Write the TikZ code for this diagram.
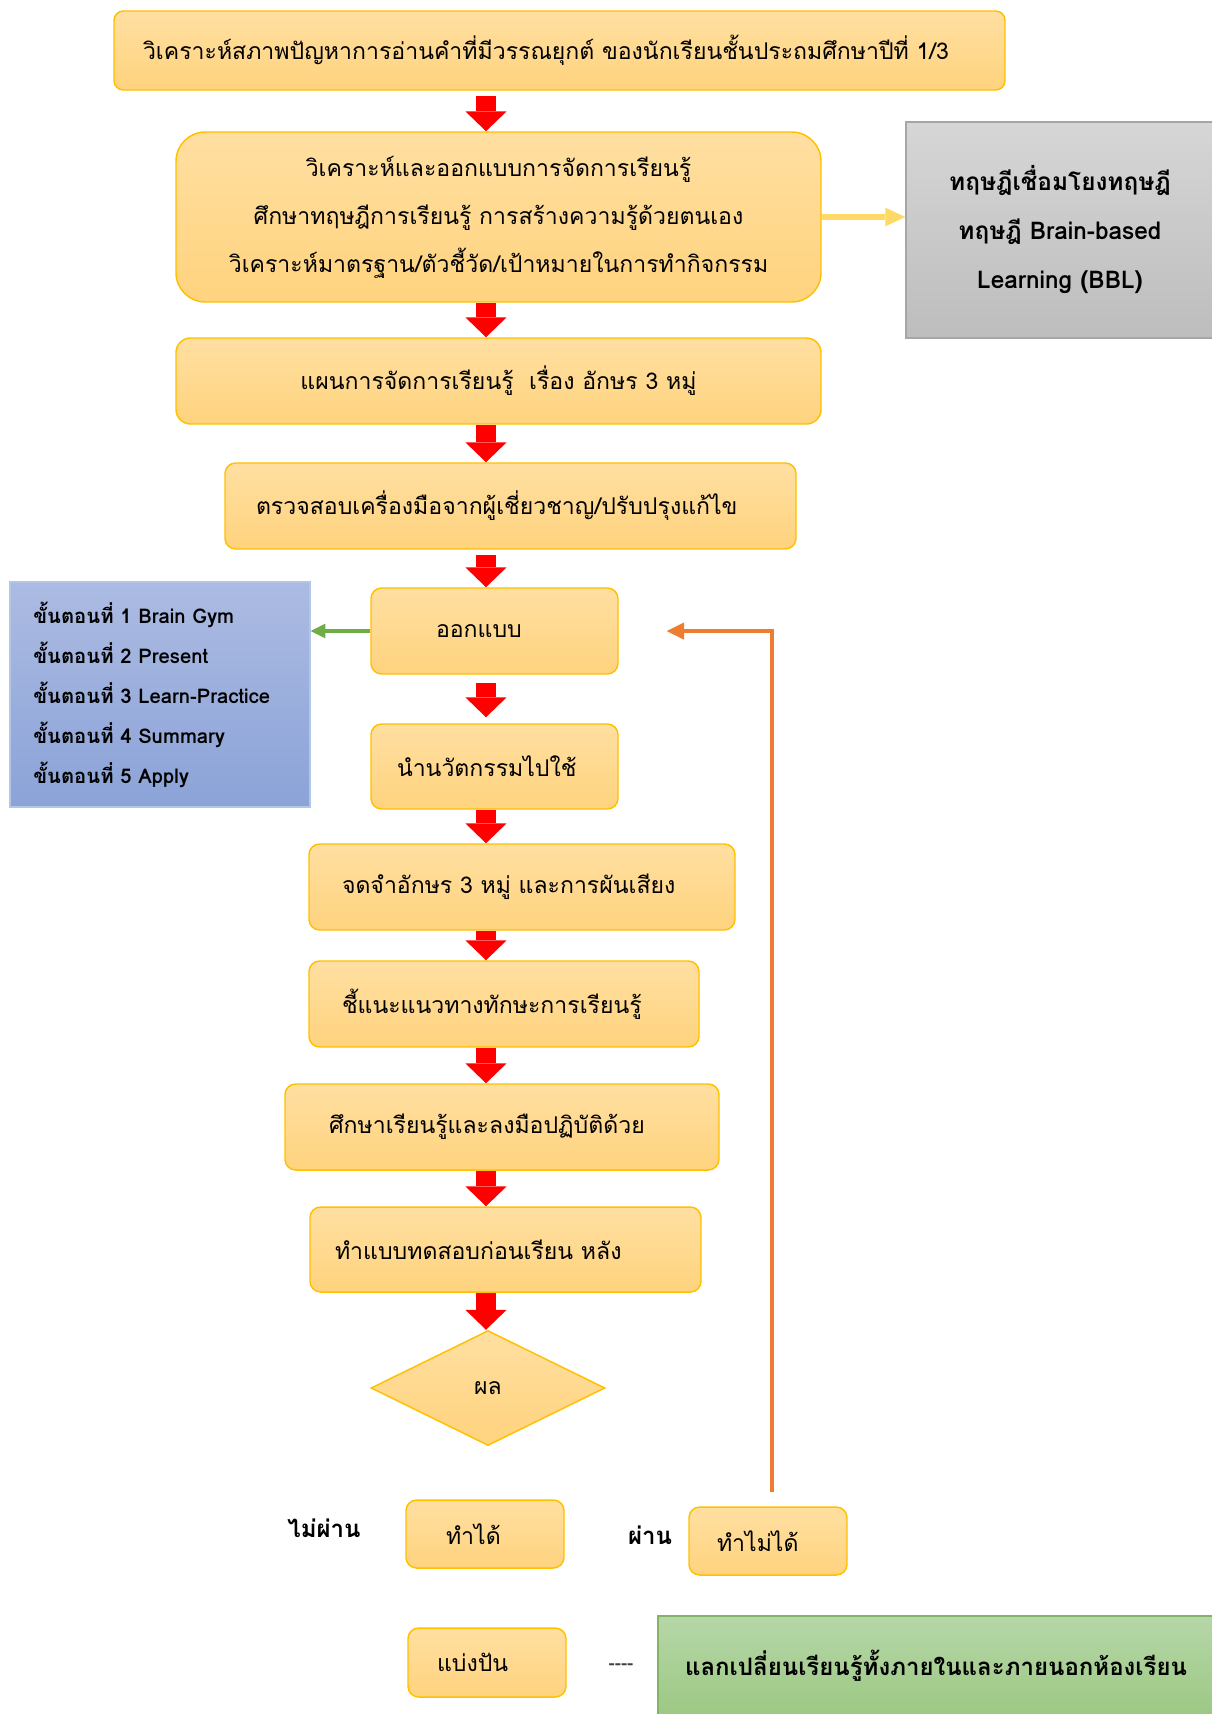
\documentclass[tikz,border=0pt]{standalone}
\usepackage{fontspec}
\setmainfont[Script=Thai]{Loma}
\usetikzlibrary{shapes.geometric}
\usetikzlibrary{positioning}
\usetikzlibrary{arrows.meta}
\definecolor{boxtop}{HTML}{FFDFA1}
\definecolor{boxbot}{HTML}{FFD37E}
\definecolor{boxline}{HTML}{FFC000}
\definecolor{graytop}{HTML}{D6D6D6}
\definecolor{graybot}{HTML}{BDBDBD}
\definecolor{grayline}{HTML}{A6A6A6}
\definecolor{bluetop}{HTML}{ACBBE2}
\definecolor{bluebot}{HTML}{8BA3D8}
\definecolor{blueline}{HTML}{B4C6E7}
\definecolor{greentop}{HTML}{B6D7A8}
\definecolor{greenbot}{HTML}{9CC883}
\definecolor{greenline}{HTML}{82B366}
\definecolor{orangeline}{HTML}{ED7D31}
\definecolor{greenarrow}{HTML}{70AD47}
\definecolor{yellowarrow}{HTML}{FFD966}
\tikzset{
    mybox/.style = {rectangle, rounded corners=8pt, draw=boxline, line width=1.1pt, top color=boxtop, bottom color=boxbot, inner sep=0pt, align=left, font=\fontsize{17.3}{36}\selectfont},
    mydiamond/.style = {diamond, draw=boxline, line width=1.1pt, top color=boxtop, bottom color=boxbot, inner sep=0pt, font=\fontsize{17.3}{24}\selectfont},
    graybox/.style = {rectangle, draw=grayline, line width=1pt, top color=graytop, bottom color=graybot, inner sep=0pt, align=center, font=\bfseries\fontsize{18.3}{36.75}\selectfont},
    bluebox/.style = {rectangle, draw=blueline, line width=1pt, top color=bluetop, bottom color=bluebot, inner sep=0pt, align=left, font=\bfseries\fontsize{15.2}{30}\selectfont},
    greenbox/.style = {rectangle, draw=greenline, line width=1pt, top color=greentop, bottom color=greenbot, inner sep=0pt, align=center, font=\bfseries\fontsize{18}{24}\selectfont},
    mylabel/.style = {inner sep=0pt, font=\bfseries\fontsize{18}{24}\selectfont},
    edger/.style = {-{Triangle[length=15pt,width=31pt,line width=0pt]}, line width=15pt, red},
    edgeg/.style = {-{Triangle[length=11pt,width=11pt,line width=0pt]}, line width=3.6pt, greenarrow},
    edgey/.style = {-{Triangle[length=15pt,width=14pt,line width=0pt]}, line width=5pt, yellowarrow},
    edgeo/.style = {-{Triangle[length=13pt,width=13pt,line width=0pt]}, line width=3.6pt, orangeline}
}
\begin{document}
\begin{tikzpicture}[x=0.75pt,y=-0.75pt]
\useasboundingbox (0,0) rectangle (1212,1714);
%
\coordinate (axis) at (486,0);
\coordinate (ocol) at (772,0);
%
\node[mybox, rounded corners=7pt, minimum width=668.25pt, minimum height=59.25pt, text width=624.75pt] at (559.5,50.5) (t1) {\mbox{วิเคราะห์สภาพปัญหาการอ่านคำที่มีวรรณยุกต์ ของนักเรียนชั้นประถมศึกษาปีที่ 1/3}};
\node[mybox, rounded corners=22pt, align=center, minimum width=483.75pt, minimum height=127.5pt] at (498.5,217) (t2) {วิเคราะห์และออกแบบการจัดการเรียนรู้\\ศึกษาทฤษฎีการเรียนรู้ การสร้างความรู้ด้วยตนเอง\\วิเคราะห์มาตรฐาน/ตัวชี้วัด/เป้าหมายในการทำกิจกรรม};
\node[graybox, minimum width=231pt, minimum height=162pt] at (1060,230) (theory) {ทฤษฎีเชื่อมโยงทฤษฎี\\ทฤษฎี Brain-based\\Learning (BBL)};
\node[mybox, rounded corners=11pt, align=center, minimum width=483.75pt, minimum height=64.5pt] at (498.5,381) (t3) {แผนการจัดการเรียนรู้\ \ เรื่อง อักษร 3 หมู่};
\node[mybox, minimum width=428.25pt, minimum height=64.5pt, text width=381.75pt] at (510.5,506) (t4) {ตรวจสอบเครื่องมือจากผู้เชี่ยวชาญ/ปรับปรุงแก้ไข};
\node[mybox, minimum width=185.25pt, minimum height=64.5pt, text width=87.75pt] at (494.5,631) (t5) {ออกแบบ};
\node[bluebox, minimum width=225pt, minimum height=168.75pt, text width=190pt] at (160,694.5) (steps) {ขั้นตอนที่ 1 Brain Gym\\ขั้นตอนที่ 2 Present\\ขั้นตอนที่ 3 Learn-Practice\\ขั้นตอนที่ 4 Summary\\ขั้นตอนที่ 5 Apply};
\node[mybox, minimum width=185.25pt, minimum height=63.75pt, text width=146.25pt] at (494.5,766.5) (t6) {นำนวัตกรรมไปใช้};
\node[mybox, minimum width=319.5pt, minimum height=64.5pt, text width=270pt] at (522,887) (t7) {จดจำอักษร 3 หมู่ และการผันเสียง};
\node[mybox, minimum width=292.5pt, minimum height=64.5pt, text width=243pt] at (504,1004) (t8) {ชี้แนะแนวทางทักษะการเรียนรู้};
\node[mybox, minimum width=325.5pt, minimum height=64.5pt, text width=259.5pt] at (502,1127) (t9) {ศึกษาเรียนรู้และลงมือปฏิบัติด้วย};
\node[mybox, minimum width=293.25pt, minimum height=63.75pt, text width=255.75pt] at (505.5,1249.5) (t10) {ทำแบบทดสอบก่อนเรียน หลัง};
\node[mydiamond, minimum width=175.5pt, minimum height=86.25pt] at (488,1388) (result) {ผล};
\node[mylabel] at (324,1528) (fail) {ไม่ผ่าน};
\node[mybox, minimum width=118.5pt, minimum height=51pt, text width=58.5pt] at (485,1534) (can) {ทำได้};
\node[mylabel] at (650,1535) (pass) {ผ่าน};
\node[mybox, minimum width=118.5pt, minimum height=51pt, text width=76.5pt] at (768,1541) (cannot) {ทำไม่ได้};
\node[mybox, minimum width=118.5pt, minimum height=51.75pt, text width=75pt] at (487,1662.5) (share) {แบ่งปัน};
\node[inner sep=0pt, text=black!75, font=\bfseries\fontsize{14}{18}\selectfont] at (621,1667) (gap) {-{}-{}-{}-};
\node[greenbox, minimum width=417pt, minimum height=75pt] at (936,1666) (exch) {แลกเปลี่ยนเรียนรู้ทั้งภายในและภายนอกห้องเรียน};
%
\draw[edger, shorten <=4pt] (t1.south -| axis) -- (t2.north -| axis);
\draw[edger] (t2.south -| axis) -- (t3.north -| axis);
\draw[edger] (t3.south -| axis) -- (t4.north -| axis);
\draw[edger, shorten <=4pt] (t4.south -| axis) -- (t5.north -| axis);
\draw[edger, shorten <=6pt, shorten >=4.5pt] (t5.south -| axis) -- (t6.north -| axis);
\draw[edger] (t6.south -| axis) -- (t7.north -| axis);
\draw[edger] (t7.south -| axis) -- (t8.north -| axis);
\draw[edger] (t8.south -| axis) -- (t9.north -| axis);
\draw[edger] (t9.south -| axis) -- (t10.north -| axis);
\draw[edger] (t10.south -| axis) -- (result.north -| axis);
\draw[edgey] (t2.east) -- (t2.east -| theory.west);
\draw[edgeg] (t5.west) -- (t5.west -| steps.east);
\draw[edgeo] ([yshift=10.5pt]cannot.north -| ocol) |- ([xshift=36pt]t5.east);
\end{tikzpicture}
\end{document}
